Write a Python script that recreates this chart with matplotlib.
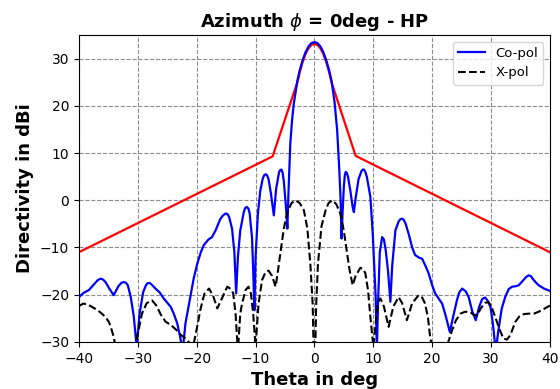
import numpy as np
import matplotlib
matplotlib.use("Agg")
import matplotlib.pyplot as plt

# Co-pol directivity (theta deg, dBi)
co_theta = [-40, -39.2, -38.3, -37.3, -36.8, -36.3, -35.9, -35.5, -34.8, -34.1, -33.3, -32.8, -32.4, -32.0,
            -31.7, -31.2, -30.7, -30.2,
            -29.7, -29.1, -28.7, -28.4, -28.0, -27.7, -27.0, -26.3, -25.6, -24.8, -24.4, -23.9, -23.3, -22.8, -22.4,
            -21.9, -21.1, -20.5, -19.9, -19.3, -18.8, -18.0, -17.4, -16.8, -16.0, -15.6, -15.1, -14.8, -14.5, -14.0,
            -13.6, -13.3, -13.0, -12.6, -12.0, -11.8, -11.5, -11.2, -11.0, -10.6, -10.4, -10.2, -10.0, -9.6, -9.2,
            -8.8, -8.55, -8.3, -8.05, -7.8, -7.4, -6.9, -6.5, -6.0, -5.8, -5.6, -5.4, -5.2, -4.8, -4.6, -4.4, -4.1,
            -3.8, -3.5, -2.9, -2.5, -2.0, -1.5, -1.0, -0.5, 0.0, 0.5, 1.0, 1.5, 2.0, 2.5, 2.9, 3.4, 3.85, 4.2,
            4.45, 4.6, 4.8, 5.0, 5.15, 5.3, 5.5, 5.7, 6.1, 6.5, 6.7, 7.0, 7.5, 8.0, 8.2, 8.4, 8.65, 8.9, 9.5,
            9.9, 10.2, 10.4, 10.6, 10.8, 11.1, 11.5, 11.8, 12.1, 12.5, 12.9, 13.2, 13.75, 14.3, 14.6, 14.9,
            15.2, 15.5, 16.0, 16.6, 17.1, 17.7, 18.3, 18.9, 19.4, 20.0, 20.5, 21.1, 21.7, 22.3, 23.0, 23.5,
            24.2, 24.6, 25.1, 25.7, 26.2, 26.8, 27.4, 28.0, 28.5, 29.0, 29.5, 29.9, 30.3, 30.8, 31.2, 31.8,
            32.4, 33.0, 33.6, 34.2, 34.7, 35.5, 36.0, 36.4, 36.8, 37.0, 37.6, 38.1, 39.0, 40.0]
co_db = [-20.5, -19.6, -19.0, -17.6, -16.9, -16.6, -16.8, -17.3, -18.8, -20.1, -18.2, -17.5, -17.3, -17.5,
         -18.0, -20.5, -24.5, -31.0,
         -24.0, -19.5, -18.2, -17.6, -17.5, -17.8, -18.7, -19.5, -20.8, -22.0, -22.6, -24.0, -26.1, -29.0, -32.0,
         -26.0, -20.5, -16.5, -13.4, -11.0, -9.5, -8.3, -7.8, -6.4, -4.0, -3.3, -2.8, -2.9, -3.5, -6.0,
         -11.0, -19.7, -12.0, -6.4, -2.5, -1.7, -1.4, -1.8, -2.8, -8.0, -15.0, -23.3, -12.0, -2.8, 2.0,
         4.5, 5.3, 5.5, 5.3, 4.5, 1.5, -3.2, 2.5, 6.0, 6.4, 6.5, 5.8, 4.0, -2.0, -6.0, 2.0, 12.0,
         17.0, 20.5, 25.3, 27.5, 29.7, 31.4, 32.6, 33.3, 33.5, 33.3, 32.6, 31.4, 29.7, 27.5, 25.3, 21.0, 15.0, 7.0,
         0.0, -8.1, -2.0, 3.0, 5.2, 6.0, 5.8, 5.0, 2.0, -1.5, -2.5, 0.5, 4.5, 6.2, 6.5, 6.5, 6.0, 5.0, 0.7,
         -7.0, -15.0, -20.5, -32.0, -22.0, -11.0, -7.8, -8.3, -10.5, -15.0, -21.5, -14.0, -6.4, -4.5, -4.0, -3.9,
         -4.2, -5.0, -7.1, -10.0, -11.6, -12.1, -12.4, -14.0, -15.5, -18.0, -19.7, -20.8, -21.9, -24.5, -27.9, -25.0,
         -21.2, -19.5, -18.7, -19.3, -20.5, -23.5, -25.4, -22.5, -20.9, -20.6, -21.4, -22.6, -26.0, -32.0, -28.0, -23.0,
         -20.5, -18.8, -18.3, -18.2, -18.0, -16.9, -16.2, -15.9, -16.1, -16.5, -17.4, -18.0, -18.7, -19.2]

# X-pol directivity
x_theta = [-40, -39.3, -38.6, -37.9, -37.2, -36.3, -35.5, -34.9, -34.6, -34.2, -33.9, -33.5, -32.0,
           -30.6, -30.1, -29.3, -28.5, -27.6, -26.9, -26.1, -25.3, -24.4, -23.5, -22.7, -21.9, -20.6,
           -19.8, -19.4, -18.7, -17.9, -17.2, -16.5, -15.8, -14.8, -14.2, -13.8, -13.4, -13.0, -12.6,
           -12.3, -11.7, -11.2, -10.8, -10.4, -10.0, -9.5, -8.9, -8.3, -7.8, -7.2, -6.6, -6.2, -5.8,
           -5.2, -4.6, -3.9, -3.2, -2.5, -1.8, -1.2, -0.7, -0.3, 0.0, 0.3, 0.6, 1.2, 1.9, 2.4, 3.0,
           3.7, 4.4, 5.0, 5.55, 6.0, 6.5, 7.0, 7.8, 8.3, 8.65, 9.1, 9.5, 10.0, 10.4, 10.8, 11.2, 11.8,
           12.6, 13.4, 14.3, 14.9, 15.7, 16.6, 17.7, 18.3, 18.8, 19.3, 19.7, 20.2, 21.5, 22.6, 23.4,
           24.0, 24.8, 25.6, 26.5, 27.0, 27.6, 28.3, 29.0, 29.6, 30.1, 30.9, 31.5, 32.1, 32.7, 33.3,
           34.1, 34.8, 35.6, 36.5, 37.3, 38.1, 39.0, 40.0]
x_db = [-22.4, -21.9, -22.0, -22.5, -23.0, -23.8, -24.7, -25.8, -26.8, -28.5, -30.2, -33.0, -36.0,
        -32.0, -28.9, -24.0, -21.8, -21.2, -22.2, -24.2, -25.7, -26.4, -27.4, -28.5, -29.3, -31.0,
        -26.0, -23.3, -19.8, -18.7, -20.3, -22.9, -21.0, -18.3, -18.8, -19.7, -24.0, -32.0, -24.0,
        -21.9, -19.0, -18.3, -19.7, -24.0, -31.0, -22.0, -16.9, -15.2, -14.9, -16.0, -18.3, -15.0, -11.3,
        -6.0, -2.5, -0.6, 0.0, -0.6, -2.1, -6.0, -13.4, -22.0, -40.0, -22.0, -13.4, -5.5, -2.1, -0.6, 0.0,
        -0.8, -2.8, -6.5, -11.3, -15.0, -18.0, -16.0, -14.3, -14.6, -15.5, -19.0, -24.7, -31.0, -26.0, -21.5, -20.8, -22.5,
        -26.8, -22.5, -20.5, -21.8, -25.4, -21.8, -20.1, -20.6, -21.9, -25.0, -29.5, -31.0, -31.0, -30.5, -27.5,
        -25.5, -24.0, -23.6, -23.7, -24.2, -24.4, -22.8, -21.7, -21.6, -22.6, -25.4, -27.5, -29.3, -29.5, -28.5,
        -25.8, -24.6, -24.1, -24.0, -24.0, -23.6, -23.0, -22.3]

# Mask (red)
mask_theta = [-40, -7.1, -2.9, -2.5, -2.0, -1.5, -1.0, -0.5, 0.0, 0.5, 1.0, 1.5, 2.0, 2.5, 2.9, 7.0, 40]
mask_db = [-11.0, 9.3, 25.0, 27.1, 29.3, 31.0, 32.2, 32.9, 33.1, 32.9, 32.2, 31.0, 29.3, 27.1, 25.0, 9.4, -11.0]

fig = plt.figure(figsize=(5.6, 3.89), dpi=100)
ax = fig.add_axes([0.141, 0.121, 0.841, 0.789])

ax.plot(mask_theta, mask_db, color='red', lw=1.6, zorder=2)
ax.plot(co_theta, co_db, color='blue', lw=1.6, label='Co-pol', zorder=3)
ax.plot(x_theta, x_db, color='black', lw=1.5, ls='--', label='X-pol', zorder=3)

ax.set_xlim(-40, 40)
ax.set_ylim(-30, 35)
ax.set_xticks(np.arange(-40, 41, 10))
ax.set_yticks(np.arange(-30, 31, 10))
ax.grid(True, color='gray', ls='--', lw=0.8, alpha=0.9)
ax.tick_params(labelsize=10)

ax.set_title(r'Azimuth $\phi$ = 0deg - HP', fontsize=13, fontweight='bold')
ax.set_xlabel('Theta in deg', fontsize=13, fontweight='bold')
ax.set_ylabel('Directivity in dBi', fontsize=13, fontweight='bold')
ax.legend(loc='upper right', fontsize=9.5)

fig.savefig('out.png', dpi=100)
